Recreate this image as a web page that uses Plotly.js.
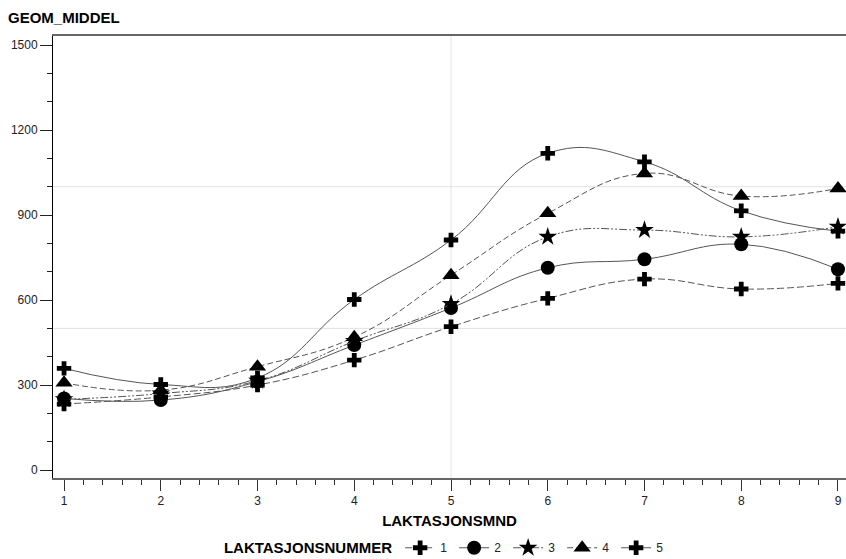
<!DOCTYPE html>
<html>
<head>
<meta charset="utf-8">
<script src="https://cdn.plot.ly/plotly-3.0.1.min.js"></script>
<style>html,body{margin:0;padding:0;background:#fff;}#chart{width:846px;height:559px;}</style>
</head>
<body>
<div id="chart"></div>
<script>
// Lactation month (x) and geometric mean per lactation number
var months = [1, 2, 3, 4, 5, 6, 7, 8, 9];
var seriesNames = ['1', '2', '3', '4', '5'];
var lakt1 = [233, 258, 300, 388, 506, 606, 674, 639, 659];
var lakt2 = [253, 247, 312, 441, 572, 714, 744, 797, 709];
var lakt3 = [250, 270, 315, 455, 586, 823, 847, 823, 859];
var lakt4 = [308, 282, 365, 469, 688, 906, 1047, 967, 994];
var lakt5 = [359, 302, 325, 602, 812, 1118, 1088, 915, 843];
var xTickVals = [1, 2, 3, 4, 5, 6, 7, 8, 9];
var yTickVals = [0, 300, 600, 900, 1200, 1500];

var seriesValues = [lakt1, lakt2, lakt3, lakt4, lakt5];
var symbols = ['cross', 'circle', 'star', 'triangle-up', 'cross'];
var dashes = ['7px,3px', 'solid', '8px,2px,2px,2px,2px,2px', '6px,3px', 'solid'];
var sizes = [12, 14, 14, 15, 12];

var traces = seriesValues.map(function (vals, i) {
  return {
    x: months,
    y: vals,
    name: seriesNames[i],
    type: 'scatter',
    mode: 'lines+markers',
    line: {shape: 'spline', smoothing: 1.25, color: '#555555', width: 1, dash: dashes[i]},
    marker: {symbol: symbols[i], size: sizes[i], color: '#000000', line: {width: 0}}
  };
});

var font = 'Liberation Sans, Arial, sans-serif';
var layout = {
  width: 846,
  height: 559,
  margin: {l: 53, r: 0, t: 36, b: 81, autoexpand: false},
  paper_bgcolor: '#ffffff',
  plot_bgcolor: '#ffffff',
  font: {family: font, size: 12, color: '#111111'},
  title: {
    text: '<b>GEOM_MIDDEL</b>',
    font: {family: font, size: 15, color: '#000000'},
    xref: 'container', yref: 'container',
    x: 8 / 846, xanchor: 'left',
    y: 1 - 18 / 559, yanchor: 'middle'
  },
  xaxis: {
    range: [0.886, 9.083],
    tickvals: xTickVals,
    ticks: 'outside', ticklen: 11, tickwidth: 1, tickcolor: '#333333',
    minor: {dtick: 0.2, tick0: 0, ticks: 'outside', ticklen: 5, tickwidth: 1, tickcolor: '#333333'},
    showline: true, linecolor: '#666666', linewidth: 2, mirror: true,
    showgrid: false, zeroline: false,
    tickfont: {family: font, size: 12, color: '#222222'},
    title: {text: '<b>LAKTASJONSMND</b>', font: {family: font, size: 15, color: '#000000'}, standoff: 8}
  },
  yaxis: {
    range: [-28, 1532],
    tickvals: yTickVals,
    ticks: 'outside', ticklen: 12, tickwidth: 1, tickcolor: '#222222',
    minor: {dtick: 100, tick0: 0, ticks: 'outside', ticklen: 5, tickwidth: 1, tickcolor: '#222222'},
    showline: true, linecolor: '#000000', linewidth: 1,
    showgrid: false, zeroline: false,
    tickfont: {family: font, size: 12, color: '#222222'}
  },
  shapes: [
    {type: 'line', xref: 'paper', yref: 'y', x0: 0, x1: 1, y0: 500, y1: 500, line: {color: '#e2e2e2', width: 1}, layer: 'below'},
    {type: 'line', xref: 'paper', yref: 'y', x0: 0, x1: 1, y0: 1000, y1: 1000, line: {color: '#e2e2e2', width: 1}, layer: 'below'},
    {type: 'line', xref: 'x', yref: 'paper', x0: 5, x1: 5, y0: 0, y1: 1, line: {color: '#e2e2e2', width: 1}, layer: 'below'}
  ],
  showlegend: true,
  legend: {
    orientation: 'h',
    x: 0.213, xanchor: 'left',
    y: -0.125, yanchor: 'top',
    itemwidth: 30,
    entrywidth: 9,
    tracegroupgap: 0,
    font: {family: font, size: 12, color: '#222222'},
    title: {text: '<b>LAKTASJONSNUMMER</b>', side: 'left', font: {family: font, size: 15, color: '#000000'}}
  }
};

Plotly.newPlot('chart', traces, layout, {displayModeBar: false, staticPlot: true});
</script>
</body>
</html>
